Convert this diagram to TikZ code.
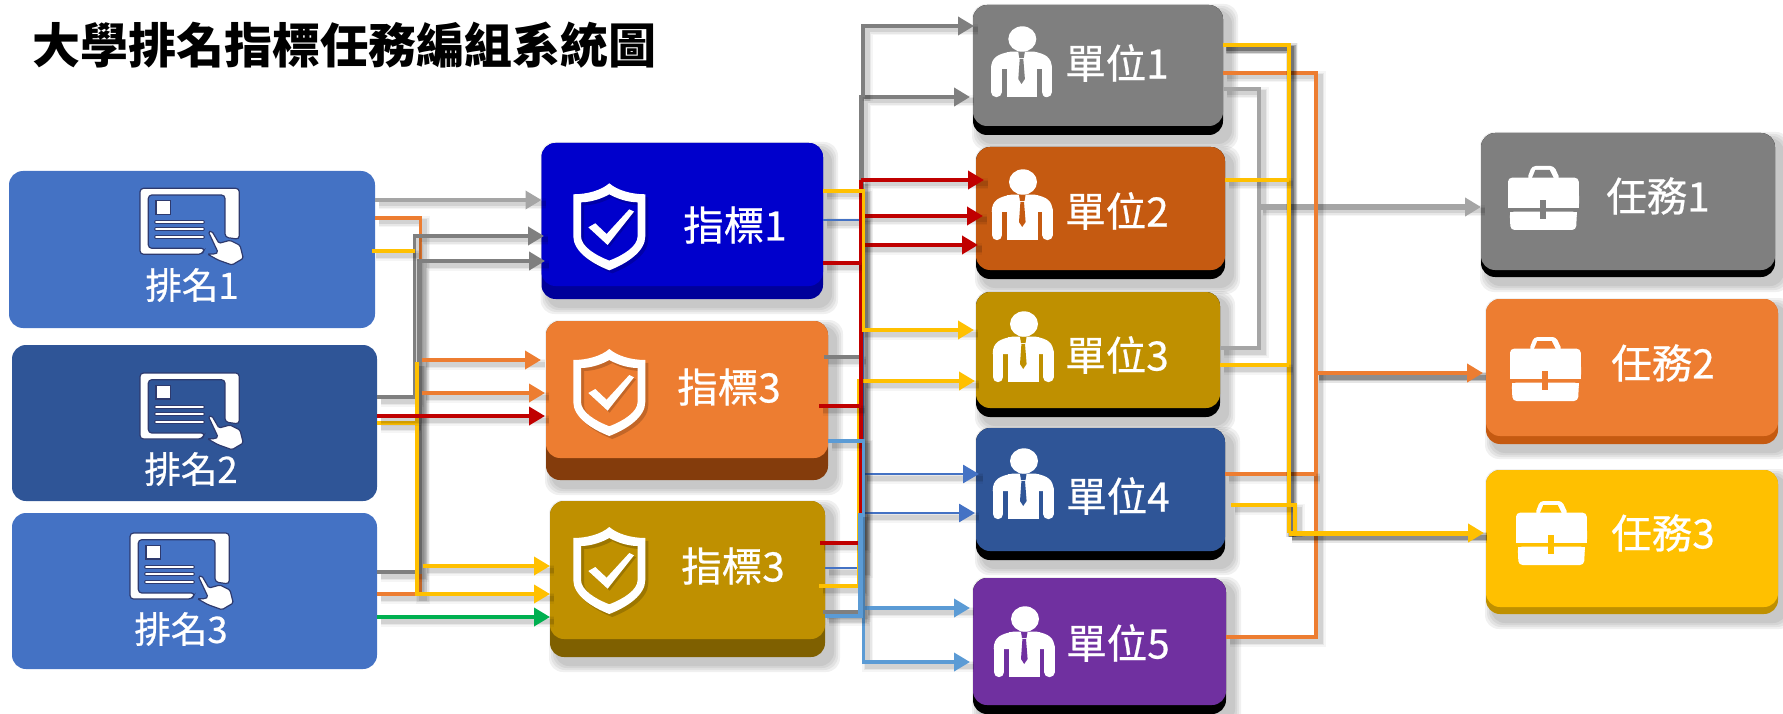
\documentclass[tikz,border=0pt]{standalone}
\usepackage{fontspec}
\newfontfamily\cjk{Noto Sans CJK TC}
\newfontfamily\cjkm[FakeBold=0.6]{Noto Sans CJK TC}
\usetikzlibrary{arrows.meta,calc}
\definecolor{cBlue}{HTML}{4472C4}
\definecolor{cNavy}{HTML}{2F5597}
\definecolor{cInd}{HTML}{0000CC}
\definecolor{cIndD}{HTML}{00009A}
\definecolor{cOr}{HTML}{ED7D31}
\definecolor{cOrD}{HTML}{843C0C}
\definecolor{cOl}{HTML}{BF9000}
\definecolor{cOlD}{HTML}{7F6000}
\definecolor{cGy}{HTML}{7F7F7F}
\definecolor{cLg}{HTML}{A5A5A5}
\definecolor{cBr}{HTML}{C55A11}
\definecolor{cPu}{HTML}{7030A0}
\definecolor{cYe}{HTML}{FFC000}
\definecolor{cRed}{HTML}{C00000}
\definecolor{cGr}{HTML}{00B050}
\definecolor{cSky}{HTML}{5B9BD5}
\definecolor{cInk}{HTML}{2E3A6E}
\tikzset{
  face/.style={inner sep=0pt,outer sep=0pt,rounded corners=14pt},
  cap/.style={text=white,inner sep=0pt,font=\cjkm\fontsize{#1}{#1}\selectfont},
  softshadow/.style={
    preaction={draw=black,draw opacity=.04,line width=11pt,-,transform canvas={xshift=4pt,yshift=-4pt}},
    preaction={draw=black,draw opacity=.06,line width=8pt,-,transform canvas={xshift=4pt,yshift=-4pt}},
    preaction={draw=black,draw opacity=.09,line width=5pt,-,transform canvas={xshift=4pt,yshift=-4pt}}},
  darkshadow/.style={
    preaction={draw=black,draw opacity=.10,line width=11pt,-,transform canvas={xshift=3pt,yshift=-4pt}},
    preaction={draw=black,draw opacity=.18,line width=8pt,-,transform canvas={xshift=3pt,yshift=-4pt}},
    preaction={draw=black,draw opacity=.25,line width=5pt,-,transform canvas={xshift=3pt,yshift=-4pt}}},
  conn/.style={draw=#1,line width=3.7pt,softshadow},
  tipped/.style={-{Triangle[length=16pt,width=18pt]}},
}
% name, x0,y0,x1,yface,ybottom, fill, dark
\newcommand{\mkcard}[8]{%
  \foreach \d in {8,6,4,2}{
    \fill[black,opacity=.06,rounded corners=14pt] ({#2+7-\d},{#3+7-\d}) rectangle ({#4+7+\d},{#6+7+\d});}
  \fill[#8,rounded corners=14pt] (#2,#3) rectangle (#4,#6);
  \pgfmathsetmacro{\cw}{#4-#2}\pgfmathsetmacro{\ch}{#5-#3}
  \node[face,fill=#7,minimum width=\cw pt,minimum height=\ch pt] (#1) at ({(#2+#4)/2},{(#3+#5)/2}) {};}
\newcommand{\mkflat}[6]{%
  \pgfmathsetmacro{\cw}{#4-#2}\pgfmathsetmacro{\ch}{#5-#3}
  \node[face,fill=#6,minimum width=\cw pt,minimum height=\ch pt] (#1) at ({(#2+#4)/2},{(#3+#5)/2}) {};}
% tablet: x,y
\newcommand{\mktablet}[2]{\begin{scope}[shift={(#1,#2)},cInk,line width=1.2pt,fill=white]
  \filldraw[rounded corners=3.5pt] (0,0) -- (99.3,0) -- (99.3,51) -- (85,49) -- (85,6.7) -- (8.3,6.7) -- (8.3,60) -- (65,60) -- (62,66) -- (0,66) -- cycle;
  \filldraw (16,12.3) rectangle (30.7,26);
  \foreach \yy in {34,41,49}{
    \draw[line width=3.6pt,line cap=round] (16,\yy) -- (63,\yy);
    \draw[white,line width=1.7pt,line cap=round] (16,\yy) -- (63,\yy);}
  \filldraw[rounded corners=1.5pt] (68.3,43.3) -- (72,43) -- (79,55) -- (90,52) -- (100,57) -- (103.3,70) -- (92,76.7) -- (78,71.7) -- (67.3,65.7) -- (75,65.7) -- (78,64) -- cycle;
\end{scope}}
% shield: x,y of top tip
\newcommand{\shieldpath}{(0,0) .. controls (-8,7) and (-22,11) .. (-36,11) -- (-36,53) .. controls (-36,68) and (-18,80) .. (0,87) .. controls (18,80) and (36,68) .. (36,53) -- (36,11) .. controls (22,11) and (8,7) .. (0,0) -- cycle
  (0,11) .. controls (-7,15) and (-18,19) .. (-28.3,19) -- (-28.3,53) .. controls (-28.3,63) and (-14,72) .. (0,77.3) .. controls (14,72) and (28.3,63) .. (28.3,53) -- (28.3,19) .. controls (18,19) and (7,15) .. (0,11) -- cycle}
\newcommand{\mkshield}[2]{\begin{scope}[shift={(#1,#2)}]
  \fill[black,opacity=.18,even odd rule,shift={(3,3)}] \shieldpath;
  \fill[white,even odd rule] \shieldpath;
  \fill[black,opacity=.18,shift={(2,2)}] (-21,44) -- (-14,40) -- (-2.7,50.7) -- (20,26) -- (24.7,28.3) -- (-1.7,61.7) -- cycle;
  \fill[white] (-21,44) -- (-14,40) -- (-2.7,50.7) -- (20,26) -- (24.7,28.3) -- (-1.7,61.7) -- cycle;
\end{scope}}
% person: x,y of head centre, colour
\newcommand{\mkperson}[3]{\begin{scope}[shift={(#1,#2)}]
  \fill[white] (0,0) circle [x radius=14,y radius=12.7];
  \fill[white] (-31.3,30) .. controls (-31.3,18) and (-24,15) .. (-12,12.7) -- (12,12.7) .. controls (23,15) and (29.6,18) .. (29.6,30) -- cycle;
  \fill[white] (-15.7,13) rectangle (15,58.3);
  \draw[white,line width=10.4pt,line cap=round] (-26,28) -- (-26,53);
  \draw[white,line width=10.4pt,line cap=round] (24.4,28) -- (24.4,53);
  \fill[#3] (-4,13) -- (2.5,13) -- (1.5,19) -- (-3,19) -- cycle;
  \fill[#3] (-2.6,20) -- (1,20) -- (2.6,40) -- (-0.8,45) -- (-4,40) -- cycle;
\end{scope}}
% briefcase: x,y, colour
\newcommand{\mkcase}[3]{\begin{scope}[shift={(#1,#2)}]
  \fill[white,rounded corners=3.5pt] (19,13) -- (24,0) -- (46,0) -- (52,13) -- cycle;
  \fill[#3] (27.3,4) -- (41.7,4) -- (45.7,12) -- (24,12) -- cycle;
  \fill[white,rounded corners=4pt] (0,11.7) -- (70.7,11.7) -- (71,30) -- (71,41.7) -- (0,41.7) -- cycle;
  \fill[white] (0,38) rectangle (71,41.7);
  \fill[white,rounded corners=4pt] (1.7,45.7) -- (69,45.7) -- (68,64) -- (2.5,64) -- cycle;
  \fill[white] (1.7,45.7) rectangle (69,49);
  \fill[#3] (32,34) rectangle (38.3,53.3);
\end{scope}}
\begin{document}
\begin{tikzpicture}[x=1pt,y=-1pt]
\useasboundingbox (0,0) rectangle (1783,714);
% ---- cards
\mkflat{r1}{9}{171}{375}{328}{cBlue}
\mkflat{r2}{12}{345}{377}{501}{cNavy}
\mkflat{r3}{12}{513}{377}{669}{cBlue}
\mkcard{i1}{541.5}{143}{823}{286}{299}{cInd}{cIndD}
\mkcard{i2}{546}{321}{828}{458}{480}{cOr}{cOrD}
\mkcard{i3}{550}{501}{825}{639}{657}{cOl}{cOlD}
\mkcard{u1}{973}{5}{1223}{126}{135}{cGy}{black}
\mkcard{u2}{976}{147}{1225}{270}{279}{cBr}{black}
\mkcard{u3}{976}{292}{1220}{408}{417}{cOl}{black}
\mkcard{u4}{976}{428}{1225}{551}{560}{cNavy}{black}
\mkcard{u5}{973}{578}{1226}{705}{714}{cPu}{black}
\mkcard{t1}{1481}{133}{1775}{270}{277}{cGy}{black}
\mkcard{t2}{1486}{299}{1778}{436}{444}{cOr}{cBr}
\mkcard{t3}{1486}{470}{1778}{607}{614}{cYe}{cOl}
% ---- icons
\mktablet{140}{188.3}\mktablet{140}{373}\mktablet{130}{533}
\mkshield{609.3}{183.3}\mkshield{609.3}{349}\mkshield{609.3}{527}
\mkperson{1022.3}{39}{cGy}\mkperson{1023}{182}{cBr}\mkperson{1024}{324}{cOl}\mkperson{1024}{461}{cNavy}\mkperson{1025}{619}{cPu}
\mkcase{1508}{166}{cGy}\mkcase{1510}{337}{cOr}\mkcase{1516}{501}{cYe}
% ---- labels
\node[inner sep=0pt,anchor=west,font=\cjk\bfseries\fontsize{48}{48}\selectfont] (title) at (32,45) {大學排名指標任務編組系統圖};
\node[cap=36.5] (lr1) at (192,285) {排名1};
\node[cap=36.5] (lr2) at (191,469) {排名2};
\node[cap=36.5] (lr3) at (181,629) {排名3};
\node[cap=40.5] (li1) at (735,225) {指標1};
\node[cap=40.5] (li2) at (729,387) {指標3};
\node[cap=40.5] (li3) at (733,566) {指標3};
\node[cap=40.5] (lu1) at (1117,63) {單位1};
\node[cap=40.5] (lu2) at (1117,211) {單位2};
\node[cap=40.5] (lu3) at (1117,355) {單位3};
\node[cap=40.5] (lu4) at (1118,496) {單位4};
\node[cap=40.5] (lu5) at (1118,643) {單位5};
\node[cap=40.5] (lt1) at (1658,196) {任務1};
\node[cap=40.5] (lt2) at (1663,363) {任務2};
\node[cap=40.5] (lt3) at (1663,533) {任務3};
% ---- bus coordinates
\coordinate (bLa) at (414.5,0);
\coordinate (bLb) at (419.5,0);
\coordinate (bLo) at (420.5,0);
\coordinate (bLy) at (417,0);
\coordinate (bMg) at (861.5,0);
\coordinate (bMu) at (863,0);
\coordinate (bMr) at (861,0);
\coordinate (bMy) at (863.5,0);
\coordinate (bMz) at (859,0);
\coordinate (bMb) at (863,0);
\coordinate (bMl) at (863.5,0);
\coordinate (bMk) at (860.5,0);
\coordinate (bRg) at (1259,0);
\coordinate (bRy) at (1288.5,0);
\coordinate (bRz) at (1295,0);
\coordinate (bRo) at (1316,0);
% ---- rank to indicator
\draw[conn=cLg,tipped] (r1.east|-0,200) -- (i1.west|-0,200);
\draw[conn=cOr] (r1.east|-0,218) -- (bLo|-0,218) -- (bLo|-0,594) -- (r3.east|-0,594);
\draw[conn=cGy,tipped,shorten >=-2.5pt] (r2.east|-0,397) -- (bLa|-0,397) -- (bLa|-0,236) -- (i1.west|-0,236);
\draw[conn=cGy,line width=4.4pt,tipped,shorten >=-3.5pt] (r3.east|-0,572) -- (bLb|-0,572) -- (bLb|-0,261) -- (i1.west|-0,261);
\draw[conn=cYe,shorten <=-3pt] (r1.east|-0,251) -- (bLa|-0,251);
\draw[conn=cYe] (r2.east|-0,423) -- (bLy|-0,423);
\draw[conn=cYe,tipped] (bLy|-0,362) -- (bLy|-0,594) -- (i3.west|-0,594);
\draw[conn=cYe,tipped,shorten <=2pt] (bLo|-0,566) -- (i3.west|-0,566);
\draw[conn=cOr,tipped,shorten >=5pt,shorten <=1pt] (bLo|-0,360) -- (i2.west|-0,360);
\draw[conn=cOr,tipped,shorten >=1pt,shorten <=1pt] (bLo|-0,393) -- (i2.west|-0,393);
\draw[conn=cRed,tipped,shorten >=1pt] (r2.east|-0,416) -- (i2.west|-0,416);
\draw[conn=cGr,tipped] (r3.east|-0,617) -- (i3.west|-0,617);
% ---- indicator to unit
\draw[conn=cGy,line width=4.4pt,tipped,shorten >=3pt,shorten <=-2pt] (i3.east|-0,612) -- (bMg|-0,612) -- (bMg|-0,97) -- (u1.west|-0,97);
\draw[conn=cGy,shorten <=-4pt] (i2.east|-0,357) -- (bMg|-0,357);
\draw[conn=cGy,tipped,shorten >=-1pt] (bMu|-0,97) -- (bMu|-0,26) -- (u1.west|-0,26);
\draw[conn=cBlue,line width=2.8pt] (i1.east|-0,220) -- (bMb|-0,220) -- (bMb|-0,568) -- (i3.east|-0,568);
\draw[conn=cBlue,line width=2.8pt,tipped,shorten >=-3pt] (bMb|-0,474) -- (u4.west|-0,474);
\draw[conn=cBlue,line width=2.8pt,tipped,shorten >=1pt] (bMb|-0,513) -- (u4.west|-0,513);
\draw[conn=cYe,shorten <=-6pt] (i3.east|-0,586) -- (bMz|-0,586) -- (bMz|-0,381) -- (bMy|-0,381);
\draw[conn=cRed,shorten <=-5pt] (i3.east|-0,543) -- (bMr|-0,543) -- (bMr|-0,180);
\draw[conn=cRed,tipped,shorten >=-8pt] (bMr|-0,180) -- (u2.west|-0,180);
\draw[conn=cRed,tipped,shorten >=-7pt] (bMr|-0,216) -- (u2.west|-0,216);
\draw[conn=cRed,tipped,shorten >=-2pt] (bMr|-0,245) -- (u2.west|-0,245);
\draw[conn=cRed] (i1.east|-0,263) -- (bMr|-0,263);
\draw[conn=cRed,shorten <=-9pt] (i2.east|-0,406) -- (bMr|-0,406);
\draw[conn=cYe,tipped,shorten >=2pt] (i1.east|-0,191) -- (bMy|-0,191) -- (bMy|-0,330) -- (u3.west|-0,330);
\draw[conn=cYe,tipped,shorten >=1pt] (bMy|-0,381) -- (u3.west|-0,381);
\draw[conn=cSky,tipped,shorten >=3pt] (i2.east|-0,441) -- (bMl|-0,441) -- (bMl|-0,662) -- (u5.west|-0,662);
\draw[conn=cSky,tipped,shorten >=3pt] (bMl|-0,608) -- (u5.west|-0,608);
\draw[conn=cSky,line width=4.2pt] (i3.east|-0,616) -- (bMk|-0,616) -- (bMk|-0,513);
% ---- unit to task
\draw[conn=cLg] (u1.east|-0,89) -- (bRg|-0,89) -- (bRg|-0,207);
\draw[conn=cLg] (u3.east|-0,348) -- (bRg|-0,348) -- (bRg|-0,207);
\draw[conn=cLg,line width=5.5pt,tipped] (bRg|-0,207) -- (t1.west|-0,207);
\draw[conn=cOr] (u1.east|-0,73) -- (bRo|-0,73) -- (bRo|-0,637) -- (u5.east|-0,637);
\draw[conn=cOr] (u4.east|-0,474) -- (bRo|-0,474);
\draw[draw=cOr,line width=4.5pt,darkshadow,tipped,shorten >=3pt] (bRo|-0,373) -- (t2.west|-0,373);
\draw[conn=cYe,line width=4pt,darkshadow] (u1.east|-0,45) -- (bRy|-0,45) -- (bRy|-0,533);
\draw[conn=cYe] (u2.east|-0,180) -- (bRy|-0,180);
\draw[conn=cYe] (u3.east|-0,365) -- (bRy|-0,365);
\draw[conn=cYe,shorten <=6pt] (u4.east|-0,505) -- (bRz|-0,505) -- (bRz|-0,533);
\draw[draw=cYe,line width=5pt,darkshadow,tipped,shorten >=2pt] (bRy|-0,533) -- (t3.west|-0,533);
\end{tikzpicture}
\end{document}
